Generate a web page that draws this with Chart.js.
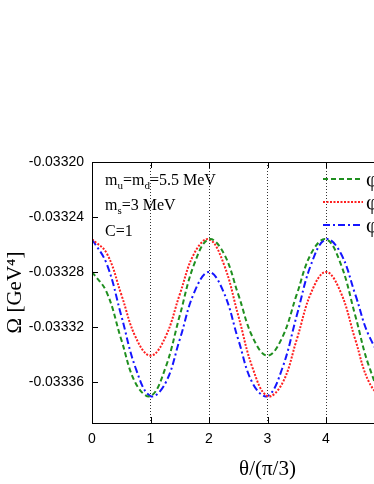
<!DOCTYPE html>
<html><head><meta charset="utf-8">
<script src="https://cdn.jsdelivr.net/npm/chart.js@4"></script>
<style>
html,body{margin:0;padding:0;overflow:hidden;background:#fff;width:374px;height:484px}
#wrap{position:absolute;left:0;top:0;width:460px;height:484px}
</style>
</head><body><div id="wrap"><canvas id="c" width="460" height="484"></canvas></div>
<script>
// θ/(π/3)
const theta = [0,0.25,0.5,0.75,1,1.25,1.5,1.75,2,2.25,2.5,2.75,3,3.25,3.5,3.75,4,4.25,4.5,4.75,5,5.25,5.5,5.75,6];
// Ω [GeV^4]
const omegaGreen = [-0.0332800,-0.0332947,-0.0333292,-0.0333614,-0.0333704,-0.0333505,-0.0333118,-0.0332740,-0.0332562,-0.0332663,-0.0332964,-0.0333279,-0.0333410,-0.0333279,-0.0332964,-0.0332663,-0.0332562,-0.0332740,-0.0333118,-0.0333505,-0.0333704,-0.0333614,-0.0333292,-0.0332947,-0.0332800];
const omegaRed = [-0.0332562,-0.0332663,-0.0332964,-0.0333279,-0.0333410,-0.0333279,-0.0332964,-0.0332663,-0.0332562,-0.0332740,-0.0333118,-0.0333505,-0.0333704,-0.0333614,-0.0333292,-0.0332947,-0.0332800,-0.0332947,-0.0333292,-0.0333614,-0.0333704,-0.0333505,-0.0333118,-0.0332740,-0.0332562];
const omegaBlue = [-0.0332562,-0.0332740,-0.0333118,-0.0333505,-0.0333704,-0.0333614,-0.0333292,-0.0332947,-0.0332800,-0.0332947,-0.0333292,-0.0333614,-0.0333704,-0.0333505,-0.0333118,-0.0332740,-0.0332562,-0.0332663,-0.0332964,-0.0333279,-0.0333410,-0.0333279,-0.0332964,-0.0332663,-0.0332562];
const seriesLabels = ['φ=0', 'φ=2π/3', 'φ=−2π/3'];
const yTicks = [-0.03320,-0.03324,-0.03328,-0.03332,-0.03336];
const xTicks = [0,1,2,3,4,5,6];
const annotLines = [
  [['m',0],['u',1],['=m',0],['d',1],['=5.5 MeV',0]],
  [['m',0],['s',1],['=3 MeV',0]],
  [['C=1',0]]
];

const toXY = arr => arr.map((v,i)=>({x:theta[i], y:v}));

const framePlugin = {
  id:'frame',
  afterDatasetsDraw(chart){
    const {ctx, chartArea:a, scales:{x,y}} = chart;
    ctx.save();
    ctx.strokeStyle='#000'; ctx.lineWidth=1; ctx.setLineDash([]);
    ctx.strokeRect(a.left+0.5, a.top+0.5, a.right-a.left-1, a.bottom-a.top);
    ctx.beginPath();
    const tl=6;
    yTicks.forEach(v=>{const py=Math.round(y.getPixelForValue(v))+0.5;
      ctx.moveTo(a.left,py); ctx.lineTo(a.left+tl,py);
      ctx.moveTo(a.right,py); ctx.lineTo(a.right-tl,py);});
    xTicks.forEach(v=>{const px=Math.round(x.getPixelForValue(v))+0.5;
      ctx.moveTo(px,a.bottom); ctx.lineTo(px,a.bottom-tl);
      ctx.moveTo(px,a.top); ctx.lineTo(px,a.top+tl);});
    ctx.stroke();
    ctx.restore();
  },
  afterDraw(chart){
    const {ctx, chartArea:a} = chart;
    ctx.save();
    ctx.fillStyle='#000';
    ctx.textBaseline='alphabetic';
    const baseY=[a.top+23,a.top+48,a.top+74];
    annotLines.forEach((line,li)=>{
      let px=a.left+13;
      line.forEach(([t,sub])=>{
        ctx.font = sub ? '11px "Liberation Serif"' : '16px "Liberation Serif"';
        ctx.fillText(t, px, baseY[li] + (sub?4:0));
        px += ctx.measureText(t).width;
      });
    });
    // legend
    chart.data.datasets.forEach((ds,i)=>{
      const ly=a.top+17+i*23;
      ctx.save();
      ctx.strokeStyle=ds.borderColor; ctx.lineWidth=ds.borderWidth;
      ctx.setLineDash(ds.borderDash);
      ctx.beginPath(); ctx.moveTo(a.left+231,ly); ctx.lineTo(a.left+271,ly); ctx.stroke();
      ctx.restore();
      ctx.font='21px "Liberation Serif"'; ctx.textBaseline='middle';
      ctx.fillText(ds.label, a.left+274, ly+1);
    });
    ctx.restore();
  }
};

new Chart(document.getElementById('c'), {
  type:'line',
  data:{datasets:[
    {label:seriesLabels[0], data:toXY(omegaGreen), borderColor:'#1f8f1f', borderWidth:2, borderDash:[5,3], pointRadius:0, tension:0.4, fill:false},
    {label:seriesLabels[1], data:toXY(omegaRed), borderColor:'#ff1f1f', borderWidth:2, borderDash:[2,1.5], pointRadius:0, tension:0.4, fill:false},
    {label:seriesLabels[2], data:toXY(omegaBlue), borderColor:'#1515ff', borderWidth:2, borderDash:[7,3,2,3], pointRadius:0, tension:0.4, fill:false}
  ]},
  options:{
    responsive:false, animation:false, devicePixelRatio:1,
    layout:{padding:{top:162,right:17,left:0,bottom:0}},
    plugins:{legend:{display:false}, tooltip:{enabled:false}},
    scales:{
      x:{type:'linear', min:0, max:6,
        afterBuildTicks(s){s.ticks=xTicks.map(v=>({value:v}));},
        afterFit(s){s.height=61;},
        grid:{drawTicks:false, lineWidth:1, color:c=>(c.tick && c.tick.value>0 && c.tick.value<6)?'#333':'rgba(0,0,0,0)'},
        border:{display:false, dash:[1,2]},
        ticks:{padding:8, color:'#000', font:{family:'"Liberation Sans"', size:14}, callback:v=>String(v), maxRotation:0},
        title:{display:true, text:'θ/(π/3)', color:'#000', font:{family:'"Liberation Serif"', size:21}, padding:{top:0,bottom:2}}
      },
      y:{min:-0.03339, max:-0.03320,
        afterBuildTicks(s){s.ticks=yTicks.map(v=>({value:v}));},
        afterFit(s){s.width=92;},
        grid:{display:false, drawTicks:false},
        border:{display:false},
        ticks:{padding:8, color:'#000', font:{family:'"Liberation Sans"', size:14}, callback:v=>Number(v).toFixed(5)},
        title:{display:true, text:'Ω [GeV⁴]', color:'#000', font:{family:'"Liberation Serif"', size:21}, padding:{top:3,bottom:0}}
      }
    }
  },
  plugins:[framePlugin]
});
</script>
</body></html>
